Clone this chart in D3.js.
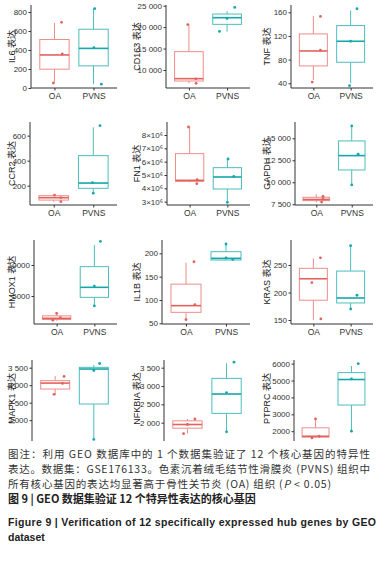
<!DOCTYPE html>
<html>
<head>
<meta charset="utf-8">
<title>GEO validation boxplots</title>
<style>
body {
  margin: 0;
  background: #fff;
}
svg {
  display: block;
  font-family: "Liberation Sans", Arial, "Noto Sans CJK SC", sans-serif;
}
.tick text {
  font-size: 8px;
  fill: #333;
}
.caption {
  font-family: "Noto Sans CJK SC", "Liberation Sans", sans-serif;
  font-size: 10.5px;
  fill: #333;
}
.caption.bold {
  font-weight: 700;
  fill: #222;
}
</style>
</head>
<body>
<svg width="385" height="572"></svg>
<script src="https://cdn.jsdelivr.net/npm/d3@7"></script>
<script>

var genes = ["IL6", "CD163", "TNF", "CCR2", "FN1", "GAPDH",
             "HMOX1", "IL1B", "KRAS", "MAPK1", "NFKBIA", "PTPRC"];
var groups = ["OA", "PVNS"];

// box stats: [lower whisker, q1, median, q3, upper whisker]
var boxOA = [
  [52, 198, 348, 511, 685],
  [6900, 7436, 7980, 14275, 20645],
  [45.6, 69.3, 94.6, 123.4, 153.8],
  [72, 85, 104, 120, 130],
  [4.45e6, 4.52e6, 4.6e6, 6.6e6, 8.6e6],
  [7727, 7917, 8050, 8295, 8636],
  [1000, 1200, 1400, 1800, 2200],
  [55, 73.6, 87.9, 134, 180],
  [150, 186, 225, 244, 262],
  [2714, 2890, 3060, 3129, 3262],
  [1700, 1850, 1950, 2050, 2100],
  [1600, 1650, 1700, 2200, 2727]
];
var boxPVNS = [
  [40, 233, 417, 619, 835],
  [18935, 20645, 22200, 23054, 23750],
  [40, 75.5, 111, 137.5, 162.8],
  [139, 179, 221, 440, 667],
  [3.0e6, 3.95e6, 4.85e6, 5.55e6, 6.25e6],
  [9773, 11400, 13030, 14697, 16439],
  [3387, 4785, 6398, 9731, 13226],
  [185.7, 185.7, 189.3, 203.6, 221.4],
  [169.5, 181, 190, 239, 287],
  [1450, 2462, 3462, 3510, 3576],
  [1720, 2254, 2782, 3209, 3618],
  [2000, 3550, 5060, 5470, 5860]
];

// jittered sample points
var ptsOA = [
  [692, 358, 52], [20600, 7950, 6900], [153, 96, 42], [125, 105, 72],
  [8.6e6, 4.65e6, 4.35e6], [8400, 8100, 7750], [2200, 1500, 1100],
  [182, 90, 58], [263, 218, 152], [3250, 3050, 2740], [2100, 1950, 1700],
  [2727, 1700, 1600]
];
var ptsPVNS = [
  [835, 425, 40], [24600, 22000, 19000], [166, 111, 36], [680, 225, 140],
  [6.2e6, 4.9e6, 2.95e6], [16400, 13200, 9700], [13800, 6600, 3400],
  [220, 190, 187], [285, 195, 170], [3620, 3420, 1450], [3650, 2820, 1750],
  [6000, 5100, 2000]
];
// horizontal jitter, in category units
var jitOA = [
  [0.18, 0.2, -0.03], [-0.03, 0.18, 0.19], [0.19, 0.19, -0.03], [0.02, 0.18, 0.18],
  [-0.03, 0.2, 0.19], [0.19, 0.19, 0.15], [0, 0.1, -0.1], [0.2, 0.22, 0],
  [0.19, -0.04, 0.2], [0.23, 0.19, -0.03], [0.19, 0, -0.1], [0, 0.1, -0.1]
];
var jitPVNS = [
  [0.03, 0.01, 0.2], [0.2, 0, -0.2], [0.17, 0, -0.03], [0.17, -0.02, 0],
  [0.02, 0.17, 0], [0, 0.18, 0], [0.16, 0, 0], [0, 0, 0.17],
  [0, 0.17, 0], [0.15, 0, 0], [0.19, 0, 0], [0.19, 0, 0]
];

// y-axis limits of each panel
var yDomain = [
  [0, 874], [5800, 25160], [32, 172.3],
  [45.6, 709], [2.75e6, 8.975e6], [7420, 16850],
  [485, 14030], [48.6, 228.6], [142.7, 295.5],
  [1405, 3720], [1500, 3710], [1420, 6216]
];
var tickVals = [
  [0, 200, 400, 600, 800], [10000, 15000, 20000, 25000], [40, 80, 120, 160],
  [200, 400, 600], [3e6, 4e6, 5e6, 6e6, 7e6, 8e6], [7500, 10000, 12500, 15000],
  [5000, 10000], [50, 100, 150, 200], [150, 200, 250],
  [2000, 2500, 3000, 3500], [2000, 2500, 3000, 3500], [2000, 3000, 4000, 5000, 6000]
];
var tickLabels = [
  ["0", "200", "400", "600", "800"],
  ["10 000", "15 000", "20 000", "25 000"],
  ["40", "80", "120", "160"],
  ["200", "400", "600"],
  ["3×10⁶", "4×10⁶", "5×10⁶", "6×10⁶", "7×10⁶", "8×10⁶"],
  ["7 500", "10 000", "12 500", "15 000"],
  ["5000", "10000"],
  ["50", "100", "150", "200"],
  ["150", "200", "250"],
  ["2 000", "2 500", "3 000", "3 500"],
  ["2 000", "2 500", "3 000", "3 500"],
  ["2000", "3000", "4000", "5000", "6000"]
];

var captionLines = [
  "图注：利用 GEO 数据库中的 1 个数据集验证了 12 个核心基因的特异性",
  "表达。数据集：GSE176133。色素沉着绒毛结节性滑膜炎 (PVNS) 组织中"
];

// layout
var rowTop = [5, 122, 240, 360],
    rowBottom = [88, 205, 324, 441],
    colRight = [117, 250, 373],
    colTitleX = [12, 137, 267],
    axisX = [31, 166, 291, 30, 167, 295, 34, 162, 291, 32, 164, 294];

var colOA = { box: "#EE8C89", pt: "#E2625E" },
    colPV = { box: "#4DBDBD", pt: "#16A7AA" };

var svg = d3.select("svg");

// bottom row is cut off by the caption
svg.append("clipPath").attr("id", "cut")
  .append("rect").attr("x", 0).attr("y", 0).attr("width", 385).attr("height", 441);

genes.forEach(function(g, i) {
  var r = Math.floor(i / 3), c = i % 3;
  var x0 = axisX[i], x1 = colRight[c], y0 = rowTop[r], y1 = rowBottom[r];

  var y = d3.scaleLinear()
      .domain(yDomain[i])
      .range([y1, y0]);

  // discrete axis like ggplot: categories at 1,2 with 0.6 expansion
  var x = d3.scaleLinear()
      .domain([0.4, 2.6])
      .range([x0, x1]);

  var panel = svg.append("g").attr("clip-path", r === 3 ? "url(#cut)" : null);

  [[boxOA, ptsOA, jitOA, colOA], [boxPVNS, ptsPVNS, jitPVNS, colPV]].forEach(function(s, k) {
    var b = s[0][i], cx = x(k + 1), hw = (x(k + 1.375) - x(k + 1)), col = s[3];
    var gb = panel.append("g");
    gb.append("line")
      .attr("x1", cx).attr("x2", cx)
      .attr("y1", y(b[3])).attr("y2", y(b[4]))
      .attr("stroke", col.box).attr("stroke-width", 1);
    gb.append("line")
      .attr("x1", cx).attr("x2", cx)
      .attr("y1", y(b[1])).attr("y2", y(b[0]))
      .attr("stroke", col.box).attr("stroke-width", 1);
    gb.append("rect")
      .attr("x", cx - hw).attr("width", hw * 2)
      .attr("y", y(b[3])).attr("height", Math.max(1, y(b[1]) - y(b[3])))
      .attr("fill", "#fff")
      .attr("stroke", col.box).attr("stroke-width", 1);
    gb.append("line")
      .attr("x1", cx - hw).attr("x2", cx + hw)
      .attr("y1", y(b[2])).attr("y2", y(b[2]))
      .attr("stroke", col.pt).attr("stroke-width", 1.6);

    gb.selectAll("circle")
      .data(s[1][i])
      .enter().append("circle")
      .attr("cx", function(d, j) { return x(k + 1 + s[2][i][j]); })
      .attr("cy", function(d) { return y(d); })
      .attr("r", 1.4)
      .attr("fill", col.pt);
  });

  // axes
  var yAxis = d3.axisLeft(y)
      .tickValues(tickVals[i])
      .tickFormat(function(d, j) { return tickLabels[i][j]; })
      .tickSize(2.5)
      .tickPadding(1.5);
  var gy = panel.append("g")
      .attr("transform", "translate(" + x0 + ",0)")
      .call(yAxis);
  gy.select(".domain").attr("d", "M0," + y0 + "V" + y1).attr("stroke", "#333");
  gy.selectAll(".tick line").attr("stroke", "#333");

  if (r < 3) {
    var xAxis = d3.axisBottom(x)
        .tickValues([1, 2])
        .tickFormat(function(d) { return groups[d - 1]; })
        .tickSize(2.5)
        .tickPadding(2);
    var gx = panel.append("g")
        .attr("transform", "translate(0," + y1 + ")")
        .call(xAxis);
    gx.select(".domain").attr("d", "M" + x0 + ",0H" + x1).attr("stroke", "#333");
    gx.selectAll(".tick line").attr("stroke", "#333");
    gx.selectAll(".tick text").style("font-size", "8.5px").attr("fill", "#222");
  }

  panel.append("text")
    .attr("transform", "translate(" + colTitleX[c] + "," + ((y0 + (r === 3 ? 437 : y1)) / 2) + ") rotate(-90)")
    .attr("text-anchor", "middle")
    .attr("dy", "0.35em")
    .style("font-size", "9px")
    .attr("fill", "#222")
    .text(g + " 表达");
});

// caption
var cap = svg.append("g");
cap.append("text").attr("class", "caption").attr("x", 8).attr("y", 458)
  .attr("textLength", 362).attr("lengthAdjust", "spacing").text(captionLines[0]);
cap.append("text").attr("class", "caption").attr("x", 8).attr("y", 473)
  .attr("textLength", 362).attr("lengthAdjust", "spacing").text(captionLines[1]);
var l3 = cap.append("text").attr("class", "caption").attr("x", 8).attr("y", 488)
  .attr("textLength", 323).attr("lengthAdjust", "spacing");
l3.append("tspan").text("所有核心基因的表达均显著高于骨性关节炎 (OA) 组织 (");
l3.append("tspan").style("font-style", "italic").text("P");
l3.append("tspan").text(" < 0.05)");
cap.append("text").attr("class", "caption bold").attr("x", 8).attr("y", 503)
  .style("font-size", "11px")
  .text("图 9  |  GEO 数据集验证 12 个特异性表达的核心基因");
cap.append("text").attr("class", "caption bold").attr("x", 8).attr("y", 526)
  .style("font-family", "'Liberation Sans', Arial, sans-serif")
  .attr("textLength", 368).attr("lengthAdjust", "spacing")
  .text("Figure 9  |  Verification of 12 specifically expressed hub genes by GEO");
cap.append("text").attr("class", "caption bold").attr("x", 8).attr("y", 541)
  .style("font-family", "'Liberation Sans', Arial, sans-serif")
  .text("dataset");

</script>
</body>
</html>
